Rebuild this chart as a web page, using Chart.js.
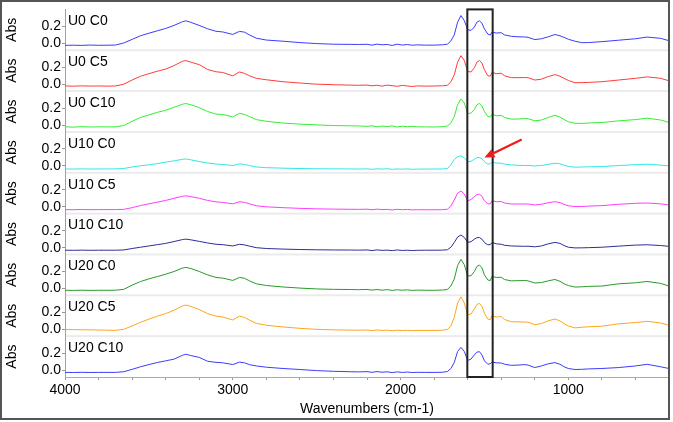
<!DOCTYPE html>
<html><head><meta charset="utf-8">
<script src="https://cdn.jsdelivr.net/npm/chart.js@4.4.0/dist/chart.umd.min.js"></script>
<style>html,body{margin:0;padding:0;background:#fff;}#wrap{width:673px;height:422px;position:relative;}</style>
</head><body><div id="wrap"><canvas id="c" width="673" height="422"></canvas></div>
<script>
const wavenumbers = [4000,3950,3900,3850,3800,3750,3700,3650,3600,3550,
 3500,3450,3400,3350,3300,3280,3250,3200,3150,3100,
 3060,3000,2960,2930,2900,2860,2800,2700,2600,2500,
 2400,2300,2250,2200,2170,2140,2110,2080,2050,2020,
 1990,1960,1930,1900,1850,1800,1750,1720,1700,1680,
 1660,1640,1620,1600,1580,1560,1545,1530,1515,1500,
 1480,1465,1455,1430,1400,1380,1340,1300,1260,1240,
 1200,1160,1120,1080,1050,1020,1000,960,920,880,
 800,700,600,530,450,400];

const sampleNames = ['U0 C0','U0 C5','U0 C10','U10 C0','U10 C5','U10 C10','U20 C0','U20 C5','U20 C10'];

const U0C0 = [-0.022,-0.021,-0.023,-0.019,-0.022,-0.021,-0.019,0.005,0.048,0.090,
 0.120,0.148,0.176,0.212,0.255,0.266,0.248,0.212,0.172,0.143,
 0.135,0.106,0.142,0.132,0.100,0.062,0.040,0.026,0.010,-0.002,
 -0.009,-0.011,-0.012,-0.010,-0.020,-0.008,-0.016,-0.012,-0.024,-0.009,
 -0.019,-0.013,-0.021,-0.017,-0.020,-0.020,-0.016,-0.008,0.030,0.100,
 0.250,0.328,0.268,0.162,0.153,0.193,0.250,0.266,0.239,0.170,
 0.110,0.098,0.134,0.122,0.126,0.100,0.084,0.078,0.076,0.072,
 0.045,0.055,0.078,0.105,0.090,0.067,0.049,0.026,0.009,0.010,
 0.021,0.038,0.055,0.075,0.060,0.032];
const U0C5 = [-0.020,-0.022,-0.019,-0.021,-0.020,-0.022,-0.020,0.001,0.050,0.094,
 0.125,0.153,0.179,0.220,0.270,0.279,0.260,0.231,0.174,0.147,
 0.139,0.099,0.145,0.128,0.099,0.070,0.053,0.030,0.015,0.001,
 -0.005,-0.010,-0.012,-0.009,-0.018,-0.011,-0.022,-0.010,-0.016,-0.024,
 -0.013,-0.020,-0.026,-0.019,-0.022,-0.020,-0.018,-0.012,0.030,0.110,
 0.260,0.337,0.280,0.150,0.145,0.195,0.260,0.279,0.250,0.170,
 0.100,0.095,0.140,0.125,0.130,0.100,0.078,0.078,0.079,0.077,
 0.050,0.060,0.090,0.114,0.095,0.065,0.045,0.018,0.020,0.022,
 0.030,0.050,0.070,0.087,0.070,0.041];
const U0C10 = [-0.020,-0.024,-0.018,-0.022,-0.020,-0.021,-0.020,-0.005,0.045,0.090,
 0.120,0.150,0.175,0.210,0.245,0.254,0.240,0.205,0.160,0.130,
 0.125,0.097,0.139,0.125,0.100,0.065,0.045,0.024,0.012,0.003,
 -0.005,-0.008,-0.010,-0.014,-0.008,-0.020,-0.011,-0.016,-0.009,-0.022,
 -0.012,-0.018,-0.014,-0.020,-0.021,-0.022,-0.018,-0.010,0.025,0.100,
 0.240,0.307,0.260,0.139,0.140,0.185,0.240,0.254,0.225,0.160,
 0.100,0.097,0.128,0.110,0.115,0.090,0.070,0.072,0.077,0.075,
 0.051,0.060,0.090,0.116,0.095,0.060,0.040,0.022,0.020,0.025,
 0.031,0.050,0.065,0.082,0.060,0.031];
const U10C0 = [-0.035,-0.036,-0.034,-0.036,-0.035,-0.035,-0.034,-0.030,-0.012,0.003,
 0.013,0.028,0.045,0.060,0.078,0.082,0.072,0.052,0.035,0.022,
 0.018,0.005,0.025,0.018,0.005,-0.012,-0.020,-0.026,-0.030,-0.033,
 -0.034,-0.035,-0.036,-0.034,-0.039,-0.033,-0.037,-0.032,-0.040,-0.035,
 -0.038,-0.034,-0.039,-0.037,-0.036,-0.036,-0.035,-0.030,0.015,0.075,
 0.108,0.120,0.095,0.050,0.055,0.080,0.097,0.101,0.085,0.050,
 0.022,0.025,0.044,0.035,0.032,0.022,0.012,0.008,0.005,0.006,
 0.000,0.005,0.020,0.032,0.025,0.005,-0.005,-0.014,-0.012,-0.010,
 -0.007,0.005,0.015,0.021,0.010,0.001];
const U10C5 = [-0.033,-0.034,-0.032,-0.034,-0.033,-0.033,-0.033,-0.030,-0.010,0.015,
 0.035,0.055,0.075,0.100,0.123,0.129,0.120,0.100,0.075,0.058,
 0.052,0.035,0.060,0.052,0.035,0.012,0.000,-0.010,-0.018,-0.024,
 -0.027,-0.029,-0.030,-0.028,-0.035,-0.027,-0.033,-0.030,-0.037,-0.029,
 -0.034,-0.031,-0.036,-0.034,-0.035,-0.035,-0.034,-0.028,0.010,0.080,
 0.160,0.186,0.150,0.071,0.085,0.120,0.142,0.148,0.125,0.070,
 0.035,0.035,0.070,0.060,0.062,0.045,0.033,0.033,0.033,0.033,
 0.022,0.030,0.048,0.060,0.050,0.025,0.012,0.003,0.004,0.008,
 0.014,0.030,0.041,0.045,0.035,0.022];
const U10C10 = [-0.030,-0.031,-0.029,-0.031,-0.030,-0.030,-0.030,-0.027,-0.010,0.005,
 0.020,0.035,0.050,0.072,0.095,0.100,0.092,0.074,0.055,0.040,
 0.035,0.020,0.040,0.032,0.018,0.000,-0.010,-0.017,-0.022,-0.025,
 -0.027,-0.028,-0.029,-0.027,-0.034,-0.026,-0.032,-0.029,-0.035,-0.027,
 -0.033,-0.030,-0.034,-0.031,-0.030,-0.030,-0.029,-0.024,0.005,0.060,
 0.125,0.149,0.120,0.062,0.070,0.100,0.117,0.120,0.100,0.060,
 0.034,0.035,0.062,0.045,0.040,0.028,0.020,0.018,0.016,0.017,
 0.010,0.020,0.045,0.062,0.050,0.020,0.005,-0.003,-0.002,0.000,
 0.005,0.018,0.030,0.034,0.025,0.016];
const U20C0 = [-0.021,-0.022,-0.020,-0.022,-0.021,-0.021,-0.020,-0.010,0.040,0.082,
 0.113,0.140,0.168,0.200,0.240,0.248,0.235,0.200,0.160,0.130,
 0.122,0.095,0.130,0.120,0.090,0.055,0.035,0.018,0.005,-0.005,
 -0.010,-0.012,-0.014,-0.011,-0.019,-0.012,-0.020,-0.013,-0.022,-0.015,
 -0.020,-0.016,-0.022,-0.019,-0.021,-0.021,-0.018,-0.010,0.030,0.110,
 0.270,0.343,0.280,0.148,0.150,0.200,0.260,0.274,0.245,0.160,
 0.100,0.094,0.144,0.130,0.132,0.105,0.090,0.092,0.094,0.090,
 0.065,0.070,0.090,0.106,0.085,0.050,0.035,0.017,0.020,0.025,
 0.029,0.055,0.067,0.083,0.060,0.029];
const U20C5 = [-0.002,-0.003,-0.005,-0.006,-0.008,-0.010,-0.012,0.000,0.040,0.083,
 0.120,0.155,0.185,0.225,0.275,0.286,0.270,0.232,0.185,0.155,
 0.145,0.110,0.155,0.140,0.108,0.070,0.048,0.028,0.012,0.000,
 -0.006,-0.009,-0.010,-0.008,-0.014,-0.007,-0.013,-0.009,-0.016,-0.010,
 -0.014,-0.011,-0.015,-0.013,-0.013,-0.013,-0.010,0.000,0.040,0.140,
 0.310,0.382,0.310,0.171,0.180,0.240,0.292,0.305,0.270,0.190,
 0.120,0.114,0.160,0.145,0.150,0.115,0.090,0.088,0.086,0.084,
 0.055,0.068,0.100,0.121,0.100,0.060,0.040,0.017,0.025,0.030,
 0.037,0.065,0.080,0.094,0.075,0.048];
const U20C10 = [-0.026,-0.027,-0.025,-0.027,-0.026,-0.026,-0.026,-0.018,0.010,0.040,
 0.066,0.090,0.110,0.130,0.175,0.188,0.172,0.150,0.105,0.092,
 0.087,0.066,0.095,0.086,0.065,0.050,0.035,0.020,0.008,-0.005,
 -0.013,-0.018,-0.020,-0.017,-0.025,-0.016,-0.024,-0.019,-0.028,-0.020,
 -0.026,-0.022,-0.027,-0.025,-0.026,-0.026,-0.024,-0.015,0.020,0.090,
 0.220,0.268,0.220,0.115,0.130,0.180,0.212,0.218,0.180,0.110,
 0.070,0.077,0.095,0.087,0.084,0.070,0.057,0.060,0.066,0.060,
 0.031,0.050,0.075,0.089,0.070,0.035,0.020,0.008,0.010,0.015,
 0.020,0.031,0.050,0.069,0.040,0.020];

const seriesValues = [U0C0,U0C5,U0C10,U10C0,U10C5,U10C10,U20C0,U20C5,U20C10];
const seriesColors = ['#3c3cff','#ff3c3c','#33ee33','#33e6e6','#ff3cff','#2e2e9a','#2a9a2a','#ffa51f','#3c3cff'];

const xTickLabels = [4000,3000,2000,1000];
const xMinorTicks = [4000,3800,3600,3400,3200,3000,2800,2600,2400,2200,2000,1800,1600,1400,1200,1000,800,600];
const yTickValues = [0,0.2];
const yRange = [-0.08,0.4];
const xRange = [400,4000];

const boxRange = [1602,1451];
const arrowPanel = 3;
const arrowTail = [1278,0.311];
const arrowTip = [1500,0.099];

const FONT = 'Liberation Sans, Arial, sans-serif';

const datasets = sampleNames.map((name,i)=>({
  label: name,
  data: wavenumbers.map((w,j)=>({x:w,y:seriesValues[i][j]})),
  borderColor: seriesColors[i],
  borderWidth: 1,
  pointRadius: 0,
  tension: 0,
  fill: false,
  yAxisID: 'y'+i
}));

const scales = {
  x: {
    type:'linear', reverse:true, min:xRange[0], max:xRange[1],
    afterBuildTicks: s => { s.ticks = xMinorTicks.map(v=>({value:v})); },
    afterFit: s => { s.height = 45; },
    ticks: { autoSkip:false, maxRotation:0, padding:2, color:'#000', font:{family:FONT,size:14},
      callback: v => xTickLabels.includes(v) ? String(v) : '' },
    grid: { drawOnChartArea:false, tickLength:3, color:'#999' },
    border: { color:'#aaa' },
    title: { display:true, text:'Wavenumbers (cm-1)', color:'#000', font:{family:FONT,size:14}, padding:{top:0,bottom:4} }
  }
};
for (let i = sampleNames.length-1; i >= 0; i--) {
  scales['y'+i] = {
    type:'linear', position:'left', stack:'panels', stackWeight:1,
    min:yRange[0], max:yRange[1],
    afterBuildTicks: s => { s.ticks = yTickValues.map(v=>({value:v})); },
    afterFit: s => { s.width = 64; },
    ticks: { padding:1, color:'#000', font:{family:FONT,size:14}, callback: v => v.toFixed(1) },
    grid: { drawOnChartArea:false, tickLength:3, color:'#999' },
    border: { color:'#a0a0a0' },
    title: { display:true, text:'Abs', color:'#000', font:{family:FONT,size:14}, padding:{top:3,bottom:0} }
  };
}

const decor = {
  id:'decor',
  beforeDatasetsDraw(chart){
    const {ctx, chartArea} = chart;
    ctx.save();
    ctx.fillStyle = '#ebebeb';
    for (let i = 0; i < sampleNames.length-1; i++) {
      const s = chart.scales['y'+i];
      ctx.fillRect(chartArea.left+1, s.bottom-1, chartArea.right-chartArea.left-1, 2);
    }
    ctx.restore();
  },
  afterDatasetsDraw(chart){
    const {ctx, chartArea} = chart;
    const xs = chart.scales.x;
    ctx.save();
    // panel labels
    ctx.fillStyle = '#000';
    ctx.font = '14px ' + FONT;
    ctx.textBaseline = 'middle';
    ctx.textAlign = 'left';
    sampleNames.forEach((n,i)=>{
      const s = chart.scales['y'+i];
      ctx.fillText(n, chartArea.left+3, s.top+12);
    });
    // box
    const x1 = xs.getPixelForValue(boxRange[0]);
    const x2 = xs.getPixelForValue(boxRange[1]);
    ctx.strokeStyle = '#222';
    ctx.lineWidth = 2;
    ctx.strokeRect(x1, chartArea.top, x2-x1, chartArea.bottom-chartArea.top);
    // arrow
    const ys = chart.scales['y'+arrowPanel];
    const tx = xs.getPixelForValue(arrowTail[0]), ty = ys.getPixelForValue(arrowTail[1]);
    const hx = xs.getPixelForValue(arrowTip[0]), hy = ys.getPixelForValue(arrowTip[1]);
    const ang = Math.atan2(hy-ty, hx-tx);
    const L = 10, W = 4.5;
    const bx = hx - L*Math.cos(ang), by = hy - L*Math.sin(ang);
    ctx.strokeStyle = '#ee1c1c';
    ctx.fillStyle = '#ee1c1c';
    ctx.lineWidth = 2.2;
    ctx.beginPath(); ctx.moveTo(tx,ty); ctx.lineTo(bx,by); ctx.stroke();
    ctx.beginPath();
    ctx.moveTo(hx,hy);
    ctx.lineTo(bx + W*Math.sin(ang), by - W*Math.cos(ang));
    ctx.lineTo(bx - W*Math.sin(ang), by + W*Math.cos(ang));
    ctx.closePath(); ctx.fill();
    ctx.restore();
  },
  afterDraw(chart){
    const {ctx, chartArea} = chart;
    ctx.save();
    ctx.strokeStyle = '#555';
    ctx.lineWidth = 2;
    ctx.strokeRect(1, 1, chartArea.right-1, 418);
    ctx.restore();
  }
};

new Chart(document.getElementById('c'), {
  type:'line',
  data:{ datasets },
  options:{
    responsive:false, animation:false, devicePixelRatio:1,
    layout:{ padding:{ left:1, top:1, right:4, bottom:0 } },
    plugins:{ legend:{display:false}, tooltip:{enabled:false} },
    scales
  },
  plugins:[decor]
});
</script></body></html>
